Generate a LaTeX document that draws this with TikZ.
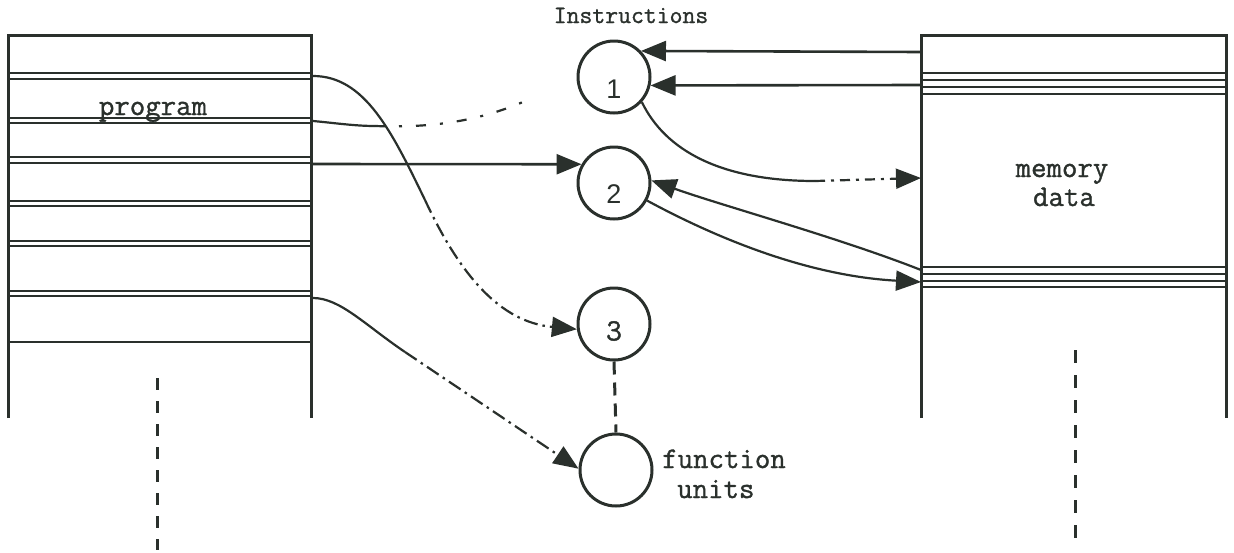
\documentclass[tikz,border=0pt]{standalone}
\usepackage{fontspec}
\newfontfamily\numfont{Liberation Sans}
\newfontfamily\twfont{Latin Modern Mono}[FakeBold=1.2]
\usetikzlibrary{arrows.meta}
\definecolor{ink}{RGB}{42,48,44}
\begin{document}
\begin{tikzpicture}[x=1pt,y=-1pt,
  boxline/.style={draw=ink,line width=3pt},
  rowline/.style={draw=ink,line width=2.6pt},
  unit/.style={circle,draw=ink,line width=3pt,minimum size=72pt,inner sep=0pt},
  lbl/.style={text=ink,font=\twfont\fontsize{30}{34}\selectfont,inner sep=0pt},
  num/.style={text=ink,inner sep=0pt},
  conn/.style={draw=ink,line width=2.2pt},
  tipped/.style={-{Triangle[length=25pt,width=20pt]}},
  dashdot/.style={dash pattern=on 14pt off 5pt on 2.5pt off 5pt},
  vdash/.style={draw=ink,line width=3pt,dash pattern=on 12pt off 11pt},
]
\useasboundingbox (0,0) rectangle (1234,552);

% ---------- program box ----------
\draw[boxline] (8,418) -- (8,35) -- (311,35) -- (311,418);
\foreach \y in {73,79,118,123,157,163,201,206,241,246,291,296,342}
  \draw[rowline] (8,\y) -- (311,\y);
\draw[vdash] (157,378) -- (157,550);
\node[lbl,anchor=base] (prog) at (153,115) {program};

% ---------- memory box ----------
\draw[boxline] (921,418) -- (921,35) -- (1226,35) -- (1226,418);
\foreach \y in {73,80,87,94,267,274,281,287}
  \draw[rowline] (921,\y) -- (1226,\y);
\draw[vdash,dash pattern=on 13pt off 12pt] (1075,350) -- (1075,545);
\node[lbl,anchor=base] (mem) at (1062,177) {memory};
\node[lbl,anchor=base] (dat) at (1064,206) {data};

% ---------- instruction units ----------
\node[lbl,anchor=base,font=\twfont\fontsize{25}{30}\selectfont] (instr) at (631,23) {Instructions};
\node[unit] (c1) at (614,77) {};
\node[unit] (c2) at (614,183) {};
\node[unit] (c3) at (614,324) {};
\node[unit] (fu) at (616,470) {};
\node[num,font=\numfont\fontsize{27}{30}\selectfont] (n1) at (614,89) {1};
\node[num,font=\numfont\fontsize{27}{30}\selectfont] (n2) at (614,194) {2};
\node[num,font=\twfont\fontsize{31}{33}\selectfont] (n3) at (614,331) {3};
\node[lbl,anchor=base west] (fn1) at (662,468) {function};
\node[lbl,anchor=base west] (fn2) at (677,498) {units};
\draw[vdash,dash pattern=on 13pt off 8pt] (c3.south) -- (fu.north);

% ---------- connection points ----------
\coordinate (m1) at (921,52);
\coordinate (m2) at (921,85);
\coordinate (m3) at (921,178);
\coordinate (m4) at (921,270);
\coordinate (m5) at (921,282);
\coordinate (p1) at (313,76);
\coordinate (p2) at (313,121);
\coordinate (p3) at (311,164);
\coordinate (p6) at (313,298);
\coordinate (k3) at (815,181);
\coordinate (k7) at (425,200);
\coordinate (k8) at (375,126);
\coordinate (e8) at (532,98);
\coordinate (k9) at (405,352);

% memory -> instruction 1
\draw[conn,line width=2.6pt,tipped] (m1) -- (c1.44);
\draw[conn,line width=2.6pt,tipped] (m2) -- (c1.-13);
% instruction 1 -> memory
\draw[conn] (c1.-42) .. controls (665,150) and (720,181) .. (k3);
\draw[conn,tipped,dash pattern=on 10pt off 6pt on 3pt off 6pt] (k3) -- (m3);
% memory <-> instruction 2
\draw[conn,tipped] (m4) .. controls (840,238) and (720,205) .. (c2.4);
\draw[conn,tipped] (c2.-28) .. controls (720,240) and (810,276) .. (m5);
% program -> instruction 2
\draw[conn,line width=2.6pt,tipped] (p3) -- (c2.150);
% program -> instruction 3
\draw[conn] (p1) .. controls (365,76) and (392,132) .. (k7);
\draw[conn,tipped,dashdot] (k7) .. controls (460,275) and (500,322) .. (c3.188);
% program -> (towards 1), free end
\draw[conn] (p2) .. controls (335,123) and (355,126) .. (k8);
\draw[conn,dash pattern=on 10pt off 14pt on 3pt off 14pt] (k8) .. controls (430,128) and (480,122) .. (e8);
% program -> function units
\draw[conn] (p6) .. controls (340,298) and (365,325) .. (k9);
\draw[conn,tipped,dashdot] (k9) -- (fu.178);
\end{tikzpicture}
\end{document}
